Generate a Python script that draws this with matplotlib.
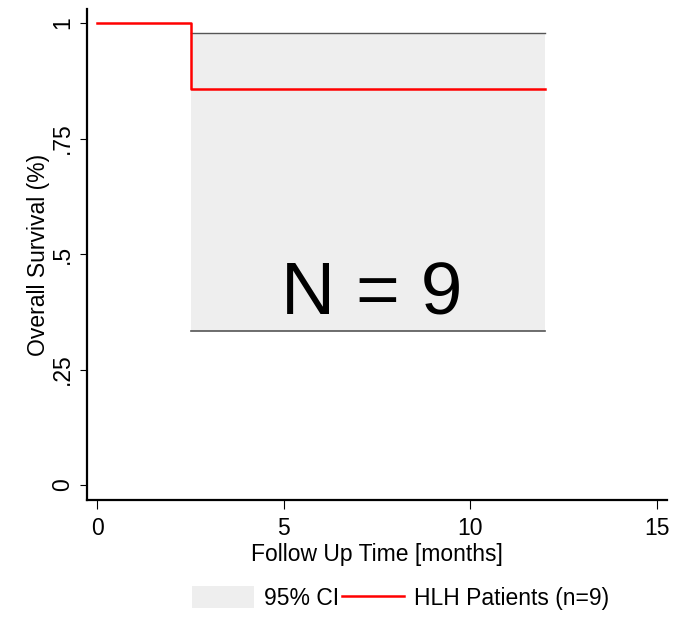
import matplotlib.pyplot as plt
from matplotlib.patches import Patch
from matplotlib.lines import Line2D

plt.rcParams['font.family'] = ['Liberation Sans', 'DejaVu Sans']

# Kaplan-Meier step data
km_time = [0, 2.5, 12]
km_surv = [1.0, 0.857, 0.857]
ci_time = [2.5, 12]
ci_low = [0.333, 0.333]
ci_high = [0.978, 0.978]

x_ticks = [0, 5, 10, 15]
y_ticks = [0, 0.25, 0.5, 0.75, 1]
y_labels = ["0", ".25", ".5", ".75", "1"]

fig = plt.figure(figsize=(6.92, 6.35), dpi=100)
ax = fig.add_axes([0.1253, 0.2126, 0.9639 - 0.1253, 0.9858 - 0.2126])

ax.fill_between(ci_time, ci_low, ci_high, step='post', color='#eeeeee', lw=0)
ax.step(ci_time, ci_high, where='post', color='#555555', lw=1.0)
ax.step(ci_time, ci_low, where='post', color='#555555', lw=1.2)
ax.step(km_time, km_surv, where='post', color='#ff0000', lw=1.8)

ax.text(7.37, 0.412, "N = 9", fontsize=54, ha='center', va='center')

ax.set_xlim(-0.284, 15.28)
ax.set_ylim(-0.0325, 1.0305)
ax.set_xticks(x_ticks)
ax.set_yticks(y_ticks)
ax.set_yticklabels(y_labels, rotation=90, va='center')
ax.tick_params(axis='x', length=6.5, width=0.8, labelsize=16.5, pad=6)
ax.tick_params(axis='y', length=5, width=0.8, labelsize=16.5, pad=4)
for s in ['top', 'right']:
    ax.spines[s].set_visible(False)
for s in ['left', 'bottom']:
    ax.spines[s].set_linewidth(1.6)

ax.set_xlabel("Follow Up Time [months]", fontsize=16.5, labelpad=2)
ax.set_ylabel("Overall Survival (%)", fontsize=16.5, labelpad=1)

handles = [Patch(facecolor='#eeeeee', edgecolor='none'),
           Line2D([0], [0], color='#ff0000', lw=1.8)]
fig.legend(handles, ["95% CI", "HLH Patients (n=9)"], loc='center',
           bbox_to_anchor=(0.579, 0.058), ncol=2, frameon=False, fontsize=16.5,
           handlelength=2.7, handleheight=1.1, handletextpad=0.45,
           columnspacing=0.12)

plt.savefig("out.png", dpi=100)
